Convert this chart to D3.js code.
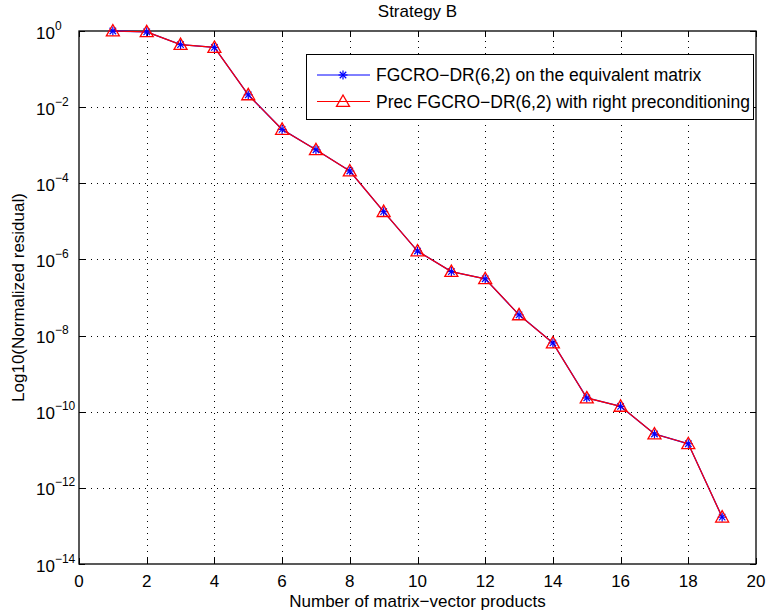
<!DOCTYPE html>
<html>
<head>
<meta charset="utf-8">
<script src="https://cdn.jsdelivr.net/npm/d3@7"></script>
<style>
  body { margin: 0; background: #fff; }
  svg { font-family: "Liberation Sans", Arial, Helvetica, sans-serif; }
</style>
</head>
<body>
<div id="chart"></div>
<script>
var width = 768, height = 616;
var margin = {left: 79, top: 31, right: 12, bottom: 52};

// data
var products = [1, 2, 3, 4, 5, 6, 7, 8, 9, 10, 11, 12, 13, 14, 15, 16, 17, 18, 19];
var fgcroEquiv = [1, 0.95, 0.44, 0.37, 0.021, 2.6e-3, 7.6e-4, 2.1e-4, 1.8e-5, 1.66e-6, 4.8e-7, 3.1e-7, 3.5e-8, 6.4e-9, 2.3e-10, 1.38e-10, 2.6e-11, 1.44e-11, 1.7e-13];
var fgcroPrec = [1, 0.95, 0.44, 0.37, 0.021, 2.6e-3, 7.6e-4, 2.1e-4, 1.8e-5, 1.66e-6, 4.8e-7, 3.1e-7, 3.5e-8, 6.4e-9, 2.3e-10, 1.38e-10, 2.6e-11, 1.44e-11, 1.7e-13];
var xTicks = [0, 2, 4, 6, 8, 10, 12, 14, 16, 18, 20];
var yExponents = [0, -2, -4, -6, -8, -10, -12, -14];
var legendLabels = ['FGCRO\u2212DR(6,2) on the equivalent matrix', 'Prec FGCRO\u2212DR(6,2) with right preconditioning'];

var pw = width - margin.left - margin.right, ph = height - margin.top - margin.bottom;

var svg = d3.select('#chart').append('svg')
  .attr('width', width)
  .attr('height', height);

var x = d3.scaleLinear().domain([0, 20]).range([margin.left, margin.left + pw]);
var y = d3.scaleLog().domain([1e-14, 1]).range([margin.top + ph, margin.top]);

var x0 = margin.left, x1 = margin.left + pw, y0 = margin.top + ph, y1 = margin.top;

// grid (dotted)
var grid = svg.append('g').attr('stroke', '#000').attr('stroke-width', 1).attr('stroke-dasharray', '1,5');
grid.selectAll('.gx').data(xTicks.slice(1, -1)).enter().append('line')
  .attr('x1', d => Math.round(x(d)) + 0.5).attr('x2', d => Math.round(x(d)) + 0.5)
  .attr('y1', y0).attr('y2', y1);
grid.selectAll('.gy').data(yExponents.slice(1, -1)).enter().append('line')
  .attr('y1', d => Math.round(y(Math.pow(10, d))) + 0.5).attr('y2', d => Math.round(y(Math.pow(10, d))) + 0.5)
  .attr('x1', x0).attr('x2', x1);

// ticks (inward, both sides)
var tk = svg.append('g').attr('stroke', '#000').attr('stroke-width', 1);
xTicks.forEach(function(t) {
  var px = Math.round(x(t)) + 0.5;
  tk.append('line').attr('x1', px).attr('x2', px).attr('y1', y0).attr('y2', y0 - 6);
  tk.append('line').attr('x1', px).attr('x2', px).attr('y1', y1).attr('y2', y1 + 6);
});
yExponents.forEach(function(e) {
  var py = Math.round(y(Math.pow(10, e))) + 0.5;
  tk.append('line').attr('x1', x0).attr('x2', x0 + 6).attr('y1', py).attr('y2', py);
  tk.append('line').attr('x1', x1).attr('x2', x1 - 6).attr('y1', py).attr('y2', py);
});

// box
svg.append('rect')
  .attr('x', x0).attr('y', y1).attr('width', pw).attr('height', ph)
  .attr('fill', 'none').attr('stroke', '#000').attr('stroke-width', 1.3);

// x tick labels
svg.append('g').selectAll('text').data(xTicks).enter().append('text')
  .attr('x', d => x(d)).attr('y', 587)
  .attr('text-anchor', 'middle').attr('font-size', 17)
  .text(d => d);

// y tick labels 10^e
var yl = svg.append('g').selectAll('text').data(yExponents).enter().append('text')
  .attr('x', 36).attr('y', d => y(Math.pow(10, d)) + 7.5)
  .attr('font-size', 17);
yl.append('tspan').text('10');
yl.append('tspan').attr('dy', -9).attr('font-size', 12)
  .text(d => d === 0 ? '0' : '\u2212' + Math.abs(d));

// title and axis labels
svg.append('text').attr('x', (x0 + x1) / 2).attr('y', 17)
  .attr('text-anchor', 'middle').attr('font-size', 17).text('Strategy B');
svg.append('text').attr('x', (x0 + x1) / 2).attr('y', 607)
  .attr('text-anchor', 'middle').attr('font-size', 17).text('Number of matrix\u2212vector products');
svg.append('text').attr('transform', 'translate(24,' + ((y0 + y1) / 2) + ') rotate(-90)')
  .attr('text-anchor', 'middle').attr('font-size', 17).text('Log10(Normalized residual)');

// series
var line = d3.line().x((d, i) => x(products[i])).y(d => y(d));

svg.append('path').datum(fgcroEquiv).attr('d', line)
  .attr('fill', 'none').attr('stroke', '#0000ff').attr('stroke-width', 1.3);
svg.append('path').datum(fgcroPrec).attr('d', line)
  .attr('fill', 'none').attr('stroke', '#ff0000').attr('stroke-width', 1.2);

function star(g, cx, cy, r) {
  var s = g.append('g').attr('stroke', '#0000ff').attr('stroke-width', 1.2);
  s.append('line').attr('x1', cx - r).attr('x2', cx + r).attr('y1', cy).attr('y2', cy);
  s.append('line').attr('x1', cx).attr('x2', cx).attr('y1', cy - r).attr('y2', cy + r);
  var k = r * 0.72;
  s.append('line').attr('x1', cx - k).attr('x2', cx + k).attr('y1', cy - k).attr('y2', cy + k);
  s.append('line').attr('x1', cx - k).attr('x2', cx + k).attr('y1', cy + k).attr('y2', cy - k);
}
function triangle(g, cx, cy, r) {
  g.append('path')
    .attr('d', 'M' + cx + ',' + (cy - r) + 'L' + (cx + r) + ',' + (cy + r * 0.75) + 'L' + (cx - r) + ',' + (cy + r * 0.75) + 'Z')
    .attr('fill', 'none').attr('stroke', '#ff0000').attr('stroke-width', 1.3);
}

var marks = svg.append('g');
fgcroEquiv.forEach(function(v, i) { star(marks, x(products[i]), y(v), 4.5); });
fgcroPrec.forEach(function(v, i) { triangle(marks, x(products[i]), y(v), 6.5); });

// legend
var lg = svg.append('g');
lg.append('rect').attr('x', 306.5).attr('y', 54.5).attr('width', 447).attr('height', 65)
  .attr('fill', '#fff').attr('stroke', '#000').attr('stroke-width', 1);
var rows = [75, 101.5];
var lcolors = ['#0000ff', '#ff0000'];
legendLabels.forEach(function(lbl, i) {
  lg.append('line').attr('x1', 317).attr('x2', 370).attr('y1', rows[i]).attr('y2', rows[i])
    .attr('stroke', lcolors[i]).attr('stroke-width', 1);
  if (i === 0) star(lg, 343, rows[i], 4.5); else triangle(lg, 343, rows[i], 6.5);
  lg.append('text').attr('x', 376).attr('y', rows[i] + 6).attr('font-size', 17.5).text(lbl);
});
</script>
</body>
</html>
